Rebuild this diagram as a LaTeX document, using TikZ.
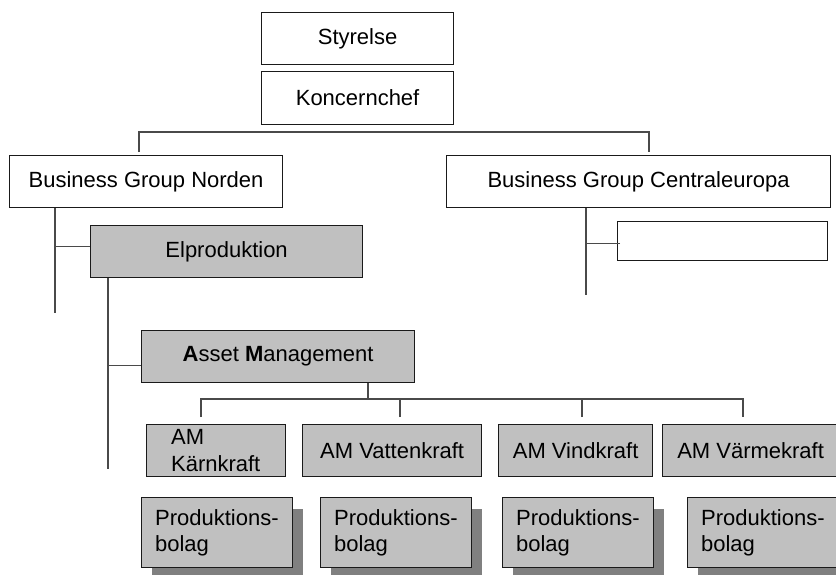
\documentclass[tikz,border=0pt]{standalone}
\usepackage{fontspec}
\setmainfont{Liberation Sans}
\usetikzlibrary{calc,shadows}
\definecolor{boxfill}{HTML}{C0C0C0}
\definecolor{shadowfill}{HTML}{808080}
\definecolor{edge}{HTML}{1A1A1A}
\definecolor{wire}{HTML}{4A4A4A}
\begin{document}
\begin{tikzpicture}[x=1pt,y=-1pt,
  font=\fontsize{22}{26}\selectfont,
  unit/.style={draw=edge, line width=1.2pt, inner sep=0pt, anchor=north west, align=center},
  plain/.style={unit, fill=white},
  grey/.style={unit, fill=boxfill},
  prod/.style={grey, minimum width=151pt, minimum height=70pt, text width=124pt, align=left,
    drop shadow={shadow xshift=10pt, shadow yshift=-11pt, fill=shadowfill, opacity=1}},
  wire/.style={draw=wire, line width=1.2pt}]
\useasboundingbox (0,0) rectangle (836,574);
\clip (0,0) rectangle (836,574);

% top of the organisation
\node[plain, minimum width=192pt, minimum height=52pt] (styrelse) at (261,12) {Styrelse};
\node[plain, minimum width=192pt, minimum height=53pt] (koncern) at (261,71) {Koncernchef};

% business groups
\node[plain, minimum width=273pt, minimum height=52pt] (norden) at (9,155) {Business Group Norden};
\node[plain, minimum width=384pt, minimum height=52pt] (central) at (446,155) {Business Group Centraleuropa};
\draw[wire] ($(norden.north west)+(130,-3)$) -- ++(0,-20) -| ($(central.north west)+(203,-3)$);

% Norden branch
\node[grey, minimum width=272pt, minimum height=52pt] (elprod) at (90,225) {Elproduktion};
\coordinate (nTail) at (55,313);
\draw[wire] (norden.south -| nTail) -- (nTail);
\draw[wire] ([yshift=5pt]elprod.west) -- ([yshift=5pt]elprod.west -| nTail);

% Centraleuropa branch
\node[plain, minimum width=210pt, minimum height=39pt] (empty) at (617,221) {};
\coordinate (cTail) at (586,295);
\draw[wire] (central.south -| cTail) -- (cTail);
\draw[wire] ([shift={(3pt,-2.5pt)}]empty.west) -- ([yshift=-2.5pt]empty.west -| cTail);

% Elproduktion branch
\node[grey, minimum width=273pt, minimum height=52pt] (asset) at (141,330) {\textbf{A}sset \textbf{M}anagement};
\coordinate (eTail) at (108,469);
\draw[wire] (elprod.south -| eTail) -- (eTail);
\draw[wire] ([yshift=-9pt]asset.west) -- ([yshift=-9pt]asset.west -| eTail);

% asset management units
\node[grey, minimum width=139pt, minimum height=52pt, text width=90pt, align=left] (kaern) at (146,424) {AM\\[1pt]Kärnkraft};
\node[grey, minimum width=179pt, minimum height=52pt] (vatten) at (302,424) {AM Vattenkraft};
\node[grey, minimum width=154pt, minimum height=52pt] (vind) at (498,424) {AM Vindkraft};
\node[grey, minimum width=176pt, minimum height=52pt] (vaerme) at (662,424) {AM Värmekraft};

\draw[wire] ($(asset.south west)+(227,0)$) -- ++(0,17);
\draw[wire] ($(kaern.north west)+(55,-7)$) -- ++(0,-18) -| ($(vaerme.north west)+(81,-7)$);
\draw[wire] ($(vatten.north west)+(98,-7)$) -- ++(0,-18);
\draw[wire] ($(vind.north west)+(84,-7)$) -- ++(0,-18);

% production companies
\node[prod] (prod1) at (141,497) {Produktions-\\bolag};
\node[prod] (prod2) at (320,497) {Produktions-\\bolag};
\node[prod] (prod3) at (502,497) {Produktions-\\bolag};
\node[prod] (prod4) at (687,497) {Produktions-\\bolag};
\end{tikzpicture}
\end{document}
